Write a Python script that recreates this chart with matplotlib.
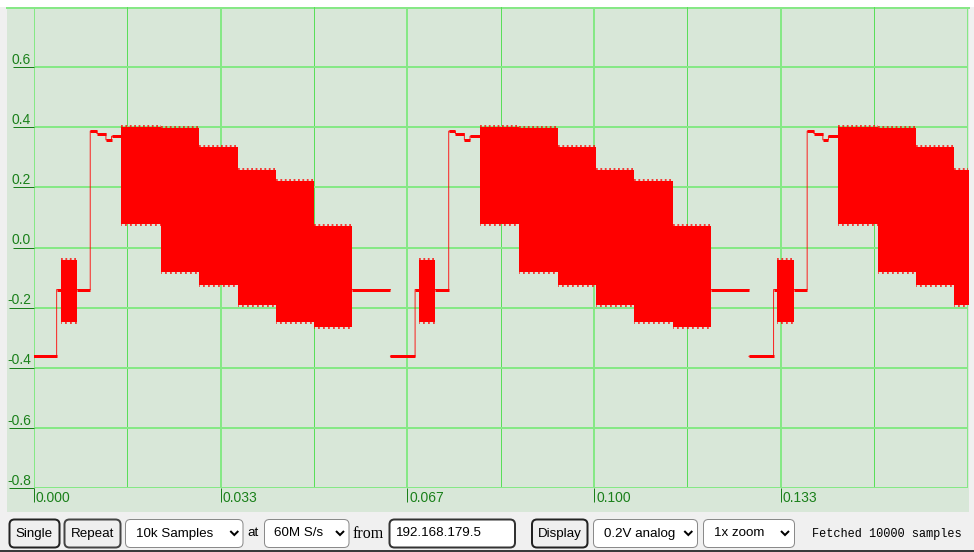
"""Scope capture of one PAL colour-bar line, redrawn as a static chart."""

import matplotlib

matplotlib.use("Agg")
import matplotlib.pyplot as plt
from matplotlib.patches import FancyBboxPatch, Rectangle

# capture: 10000 samples at 60 MS/s -> 0.1667 ms on screen
capture_us = 10000 / 60.0
line_period_us = 64.0
line_offset_us = -0.36  # the capture starts just after a sync edge
n_lines = 3

# flat parts of one line, microseconds from the sync edge, volts
flat_start_us = [0.0, 4.4, 8.0, 10.4, 11.6, 13.2, 14.2, 57.2]
flat_end_us = [4.4, 5.1, 10.4, 11.6, 13.2, 14.2, 15.9, 64.0]
flat_level_v = [-0.362, -0.14, -0.14, 0.387, 0.379, 0.358, 0.37, -0.14]

# chroma bursts / coloured bars: envelope of the carrier
band_start_us = [5.1, 15.9, 23.0, 29.9, 36.7, 43.5, 50.4]
band_end_us = [8.0, 23.0, 29.9, 36.7, 43.5, 50.4, 57.2]
band_low_v = [-0.247, 0.077, -0.082, -0.124, -0.19, -0.248, -0.266]
band_high_v = [-0.041, 0.401, 0.399, 0.334, 0.257, 0.22, 0.073]

y_ticks = [0.6, 0.4, 0.2, 0.0, -0.2, -0.4, -0.6, -0.8]
y_labels = ["0.6", "0.4", "0.2", "0.0", "-0.2", "-0.4", "-0.6", "-0.8"]
x_ticks_ms = [0.0, 1 / 30, 2 / 30, 3 / 30, 4 / 30]
x_labels = ["0.000", "0.033", "0.067", "0.100", "0.133"]

GRID_MAJOR = "#86e886"
GRID_MINOR = "#5ade5a"
LABEL = "#1a801a"
RED = "#ff0000"
PX = 0.72  # points per pixel at dpi 100

fig = plt.figure(figsize=(9.74, 5.52), dpi=100)
fig.patch.set_facecolor("#f0f0f0")

# page layer in pixel coordinates
bg = fig.add_axes([0, 0, 1, 1], zorder=0)
bg.set_xlim(0, 974)
bg.set_ylim(552, 0)
bg.axis("off")
bg.add_patch(Rectangle((0, 0), 974, 7, color="white", lw=0))
bg.add_patch(Rectangle((7, 7), 962, 505, color="#d8e7d8", lw=0))
bg.plot([7, 968.5], [7.7, 7.7], color=GRID_MAJOR, lw=2 * PX)
bg.add_patch(Rectangle((0, 550), 974, 2, color="#3a3a3a", lw=0))

# scope area
ax = fig.add_axes([34 / 974, 1 - 488 / 552, 933.5 / 974, 481 / 552], zorder=1)
ax.set_facecolor("none")
ax.set_xlim(0, capture_us / 1000)
ax.set_ylim(-0.8, 0.8)
for side in ax.spines.values():
    side.set_visible(False)
ax.set_xticks([])
ax.set_yticks([])

for k in range(1, 10):
    major = k % 2 == 0
    ax.axvline(k / 60, color=GRID_MAJOR if major else GRID_MINOR,
               lw=(2 if major else 1) * PX, zorder=0)
for y in y_ticks[:-1]:
    ax.axhline(y, color=GRID_MAJOR, lw=2 * PX, zorder=0)
ax.axhline(-0.8, color=GRID_MAJOR, lw=2 * PX, zorder=0)
ax.axvline(0, color=GRID_MAJOR, lw=2 * PX, zorder=0)
ax.axvline(capture_us / 1000, color=GRID_MAJOR, lw=2 * PX, zorder=0)

# y labels sit above their gridline with an underline tick
px_ms = (capture_us / 1000) / 933.5
for y, lab in zip(y_ticks, y_labels):
    ax.text(-3 * px_ms, y + 0.011, lab, ha="right", va="baseline",
            fontsize=10, family="Liberation Sans", color=LABEL, clip_on=False)
    tick_len = 25 if lab.startswith("-") else 21
    ax.plot([-tick_len * px_ms, 0], [y, y], color=LABEL, lw=1 * PX,
            clip_on=False, solid_capstyle="butt")

px_v = 1.6 / 481
for x, lab in zip(x_ticks_ms, x_labels):
    ax.plot([x, x], [-0.8, -0.8 - 14 * px_v], color=LABEL, lw=1 * PX,
            clip_on=False, solid_capstyle="butt")
    ax.text(x + 2 * px_ms, -0.8 - 2.5 * px_v, lab, ha="left", va="top",
            fontsize=10, family="Liberation Sans", color=LABEL, clip_on=False)

# the trace, one PAL line repeated
for n in range(n_lines):
    t0 = line_offset_us + n * line_period_us
    xs, ys = [], []
    for s, e, v in zip(flat_start_us, flat_end_us, flat_level_v):
        xs += [(t0 + s) / 1000, (t0 + e) / 1000]
        ys += [v, v]
    ax.plot(xs, ys, color=RED, lw=1 * PX, alpha=0.85, zorder=3)
    ax.hlines(flat_level_v,
              [(t0 + s) / 1000 for s in flat_start_us],
              [(t0 + e) / 1000 for e in flat_end_us],
              color=RED, lw=3 * PX, zorder=3)
    starts = [(t0 + s) / 1000 for s in band_start_us]
    ends = [(t0 + e) / 1000 for e in band_end_us]
    for s, e, lo, hi in zip(starts, ends, band_low_v, band_high_v):
        ax.fill_between([s, e], [lo, lo], [hi, hi], color=RED, lw=0, zorder=3)
    # ragged carrier peaks along the envelope edges
    ax.hlines([h + 1 * px_v for h in band_high_v], starts, ends, color=RED,
              lw=2 * PX, linestyles=(0, (0.9, 1.3)), alpha=0.75, zorder=3)
    ax.hlines([lo - 1 * px_v for lo in band_low_v], starts, ends, color=RED,
              lw=2 * PX, linestyles=(0.5, (0.9, 1.6)), alpha=0.75, zorder=3)

# control strip under the scope
ctl_y, ctl_h, cy = 519.5, 28, 533.5
ui_font = dict(family="Liberation Sans", fontsize=9.6, va="center", color="black")


def box(x0, x1, face, edge, lw_px):
    bg.add_patch(FancyBboxPatch((x0, ctl_y), x1 - x0, ctl_h,
                                boxstyle="round,pad=0,rounding_size=5",
                                fc=face, ec=edge, lw=lw_px * PX))


def chevron(cx):
    bg.plot([cx - 4, cx, cx + 4], [cy - 2.5, cy + 1.5, cy - 2.5], color="black",
            lw=2 * PX, solid_joinstyle="miter", solid_capstyle="butt")


box(9.5, 59.5, "#efefef", "#222222", 2)
bg.text(34.5, cy, "Single", ha="center", **ui_font)
box(64.5, 120.5, "#efefef", "#444444", 2)
bg.text(92.5, cy, "Repeat", ha="center", **ui_font)

box(125.5, 243, "white", "#8a8a8a", 1)
bg.text(136, cy, "10k Samples", ha="left", **ui_font)
chevron(234.3)
bg.text(247.5, cy, "at", ha="left", **ui_font)

box(264.5, 349, "white", "#8a8a8a", 1)
bg.text(274, cy, "60M S/s", ha="left", **ui_font)
chevron(340)
bg.text(353, cy, "from", ha="left", family="Liberation Serif", fontsize=11.5,
        va="center", color="black")

box(389.5, 515, "white", "#333333", 2)
bg.text(396, cy, "192.168.179.5", ha="left", **ui_font)

box(532, 587.5, "#efefef", "#222222", 2)
bg.text(559.7, cy, "Display", ha="center", **ui_font)

box(593.5, 697.5, "white", "#8a8a8a", 1)
bg.text(604, cy, "0.2V analog", ha="left", **ui_font)
chevron(688.3)

box(703.5, 794.5, "white", "#8a8a8a", 1)
bg.text(714, cy, "1x zoom", ha="left", **ui_font)
chevron(785)

bg.text(812, cy, "Fetched 10000 samples", ha="left", va="center",
        family="Liberation Mono", fontsize=8.6, color="black")

fig.savefig("out.png", dpi=100, facecolor=fig.get_facecolor())
